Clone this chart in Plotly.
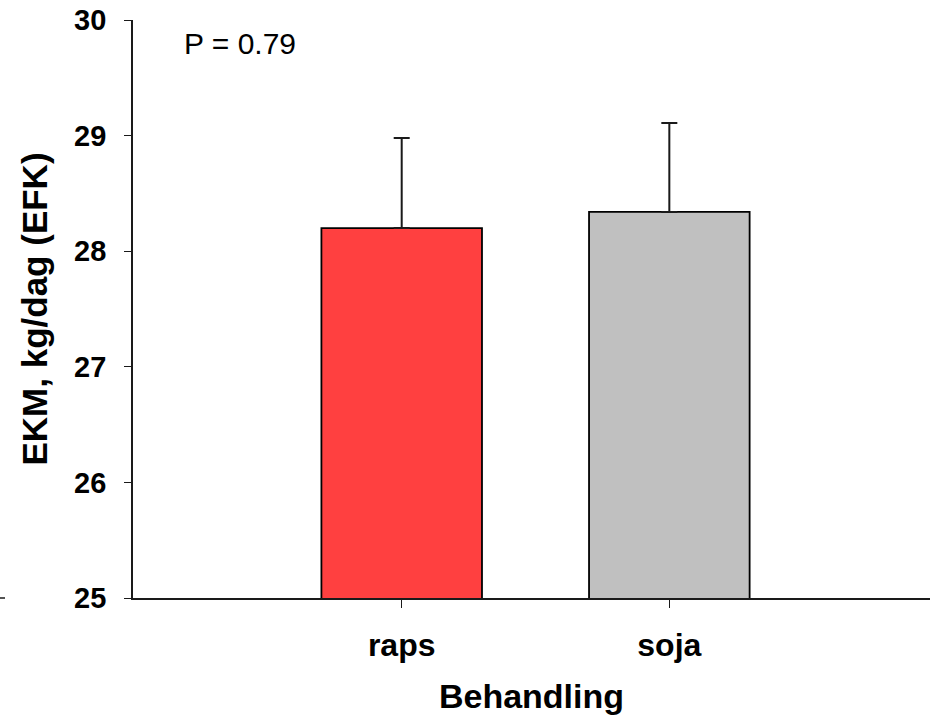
import plotly.graph_objects as go

categories = ["raps", "soja"]
means = [28.20, 28.34]
errors_up = [0.78, 0.77]
bar_colors = ["#FF4040", "#C0C0C0"]
y_ticks = [25, 26, 27, 28, 29, 30]
p_label = "P = 0.79"

W, H = 930, 718
L, R, T, B = 133, 0, 20, 120
FONT = "Liberation Sans, Arial, sans-serif"

fig = go.Figure()
fig.add_trace(go.Bar(
    x=[0, 1],
    y=means,
    width=0.6,
    marker=dict(color=bar_colors, line=dict(color="#000000", width=1.8)),
    error_y=dict(type="data", array=errors_up, arrayminus=[0, 0], symmetric=False,
                 color="#1a1a1a", thickness=2, width=8),
))

fig.update_layout(
    width=W, height=H,
    margin=dict(l=L, r=R, t=T, b=B, pad=0),
    paper_bgcolor="white", plot_bgcolor="white",
    showlegend=False,
    font=dict(family=FONT, color="#000000"),
    xaxis=dict(
        range=[-1.004, 1.974],
        tickvals=[0, 1], ticktext=categories,
        showline=True, linecolor="#1a1a1a", linewidth=1.8,
        ticks="outside", ticklen=8, tickwidth=1.3, tickcolor="#1a1a1a",
        showgrid=False, zeroline=False,
        tickfont=dict(size=32, family=FONT, weight="bold"),
        ticklabelstandoff=10,
        title=dict(text="<b>Behandling</b>", font=dict(size=34, family=FONT), standoff=22),
    ),
    yaxis=dict(
        range=[25, 30],
        tickvals=y_ticks,
        showline=True, linecolor="#1a1a1a", linewidth=1.8,
        ticks="outside", ticklen=7, tickwidth=1.3, tickcolor="#1a1a1a",
        showgrid=False, zeroline=False,
        tickfont=dict(size=29, family=FONT, weight="bold"),
        ticklabelstandoff=12,
        title=dict(text="<b>EKM, kg/dag (EFK)</b>", font=dict(size=35, family=FONT), standoff=16),
    ),
    annotations=[dict(
        text=p_label, xref="paper", yref="paper",
        x=(182 - L) / (W - L - R), y=1 - (44 - T) / (H - T - B),
        xanchor="left", yanchor="middle", showarrow=False,
        font=dict(size=30, family=FONT),
    )],
    shapes=[dict(
        type="line", xref="paper", yref="paper",
        x0=(0 - L) / (W - L - R), x1=(5 - L) / (W - L - R), y0=0, y1=0,
        line=dict(color="#1a1a1a", width=1.5),
    )],
)

fig.write_html("out.html", config={"displayModeBar": False},
               post_script="document.body.style.margin='0px';")
